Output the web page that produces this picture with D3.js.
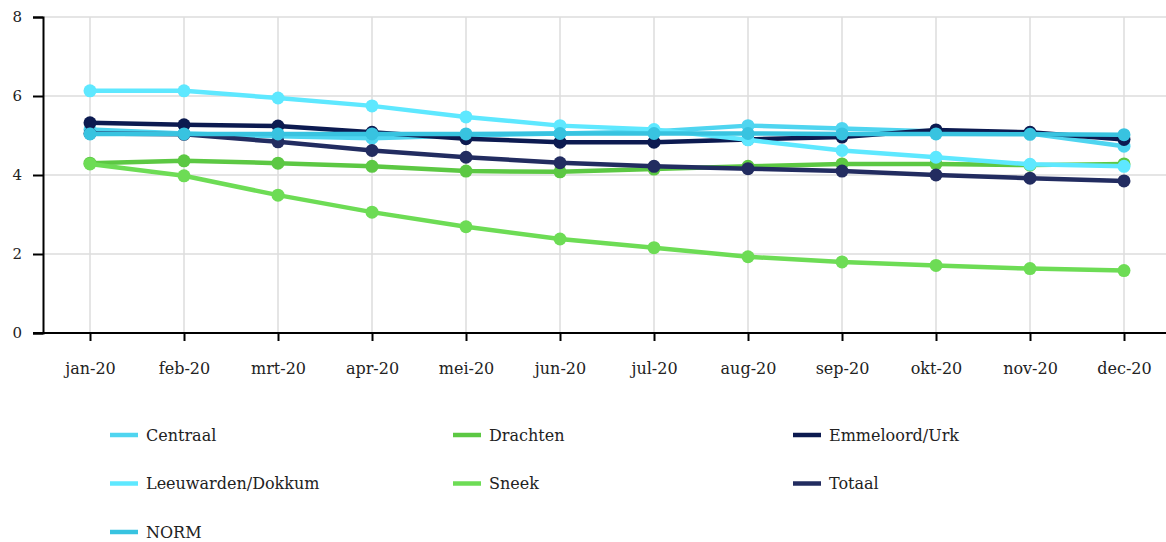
<!DOCTYPE html>
<html>
<head>
<meta charset="utf-8">
<script src="https://cdn.jsdelivr.net/npm/d3@7"></script>
<style>
  body { margin: 0; background: #fff; }
  svg { font-family: "DejaVu Serif", serif; }
</style>
</head>
<body>
<script>
const months = ["jan-20", "feb-20", "mrt-20", "apr-20", "mei-20", "jun-20",
  "jul-20", "aug-20", "sep-20", "okt-20", "nov-20", "dec-20"];
const yTicks = [0, 2, 4, 6, 8];

const centraal = [5.15, 5.05, 4.98, 4.93, 5.0, 5.05, 5.1, 5.25, 5.18, 5.1, 5.05, 4.73];
const drachten = [4.3, 4.36, 4.3, 4.22, 4.1, 4.08, 4.15, 4.22, 4.28, 4.28, 4.25, 4.28];
const emmeloord = [5.32, 5.27, 5.24, 5.08, 4.92, 4.83, 4.83, 4.9, 4.96, 5.14, 5.08, 4.9];
const leeuwarden = [6.13, 6.13, 5.95, 5.75, 5.47, 5.25, 5.15, 4.89, 4.62, 4.45, 4.27, 4.22];
const sneek = [4.28, 3.98, 3.49, 3.06, 2.69, 2.38, 2.16, 1.93, 1.8, 1.71, 1.63, 1.58];
const totaal = [5.05, 5.03, 4.84, 4.62, 4.45, 4.31, 4.22, 4.16, 4.1, 4.0, 3.92, 3.85];
const norm = [5.04, 5.04, 5.04, 5.04, 5.04, 5.05, 5.05, 5.05, 5.04, 5.04, 5.03, 5.02];

const seriesNames = ["Centraal", "Drachten", "Emmeloord/Urk", "Leeuwarden/Dokkum", "Sneek", "Totaal", "NORM"];
const seriesValues = [centraal, drachten, emmeloord, leeuwarden, sneek, totaal, norm];
const seriesColors = ["#4fd5f0", "#5cc843", "#0c1a50", "#5ee8ff", "#6ddc55", "#222c60", "#38c3e0"];

const width = 1166, height = 542;
const margin = { top: 17, left: 43, bottom: 209 };

const svg = d3.select("body").append("svg")
  .attr("width", width).attr("height", height);

const x = d3.scalePoint().domain(months)
  .range([margin.left, margin.left + 12 * 94]).padding(0.5);
const y = d3.scaleLinear().domain([0, 8])
  .range([height - margin.bottom, margin.top]);

// grid
svg.append("g")
  .selectAll("line.v")
  .data(months)
  .join("line")
  .attr("x1", d => x(d)).attr("x2", d => x(d))
  .attr("y1", y(8)).attr("y2", y(0))
  .attr("stroke", "#dcdcdc").attr("stroke-width", 1.5);
svg.append("g")
  .selectAll("line.h")
  .data(yTicks)
  .join("line")
  .attr("x1", margin.left).attr("x2", width)
  .attr("y1", d => y(d)).attr("y2", d => y(d))
  .attr("stroke", "#dcdcdc").attr("stroke-width", 1.5);

// axes
svg.append("g")
  .attr("transform", `translate(${margin.left},0)`)
  .call(d3.axisLeft(y).tickValues(yTicks).tickSize(10).tickPadding(11))
  .call(g => g.select(".domain").attr("stroke", "#000").attr("stroke-width", 2))
  .call(g => g.selectAll(".tick line").attr("stroke", "#000").attr("stroke-width", 2))
  .call(g => g.selectAll("text").attr("font-size", 15).attr("fill", "#222")
    .attr("font-family", "DejaVu Serif, serif"));

svg.append("g")
  .attr("transform", `translate(0,${y(0)})`)
  .call(d3.axisBottom(x).tickSize(8).tickPadding(22))
  .call(g => g.select(".domain").attr("d", `M${margin.left - 10},0H${width}`)
    .attr("stroke", "#000").attr("stroke-width", 2))
  .call(g => g.selectAll(".tick line").attr("stroke", "#000").attr("stroke-width", 2))
  .call(g => g.selectAll("text").attr("font-size", 16).attr("fill", "#222")
    .attr("font-family", "DejaVu Serif, serif"));

// series
const line = d3.line().x((d, i) => x(months[i])).y(d => y(d));
seriesValues.forEach((vals, k) => {
  const g = svg.append("g");
  g.append("path")
    .datum(vals)
    .attr("fill", "none")
    .attr("stroke", seriesColors[k])
    .attr("stroke-width", 4.5)
    .attr("stroke-linejoin", "round")
    .attr("d", line);
  g.selectAll("circle")
    .data(vals)
    .join("circle")
    .attr("cx", (d, i) => x(months[i]))
    .attr("cy", d => y(d))
    .attr("r", 6.5)
    .attr("fill", seriesColors[k]);
});

// legend
const legend = svg.append("g")
  .selectAll("g")
  .data(seriesNames)
  .join("g")
  .attr("transform", (d, i) => `translate(${[110, 453, 793][i % 3]},${435 + Math.floor(i / 3) * 48.5})`);
legend.append("line")
  .attr("x1", 0).attr("x2", 28)
  .attr("stroke", (d, i) => seriesColors[i])
  .attr("stroke-width", 4.5);
legend.append("text")
  .attr("x", 36).attr("dy", "0.35em")
  .attr("font-size", 16).attr("fill", "#222")
  .text(d => d);
</script>
</body>
</html>
